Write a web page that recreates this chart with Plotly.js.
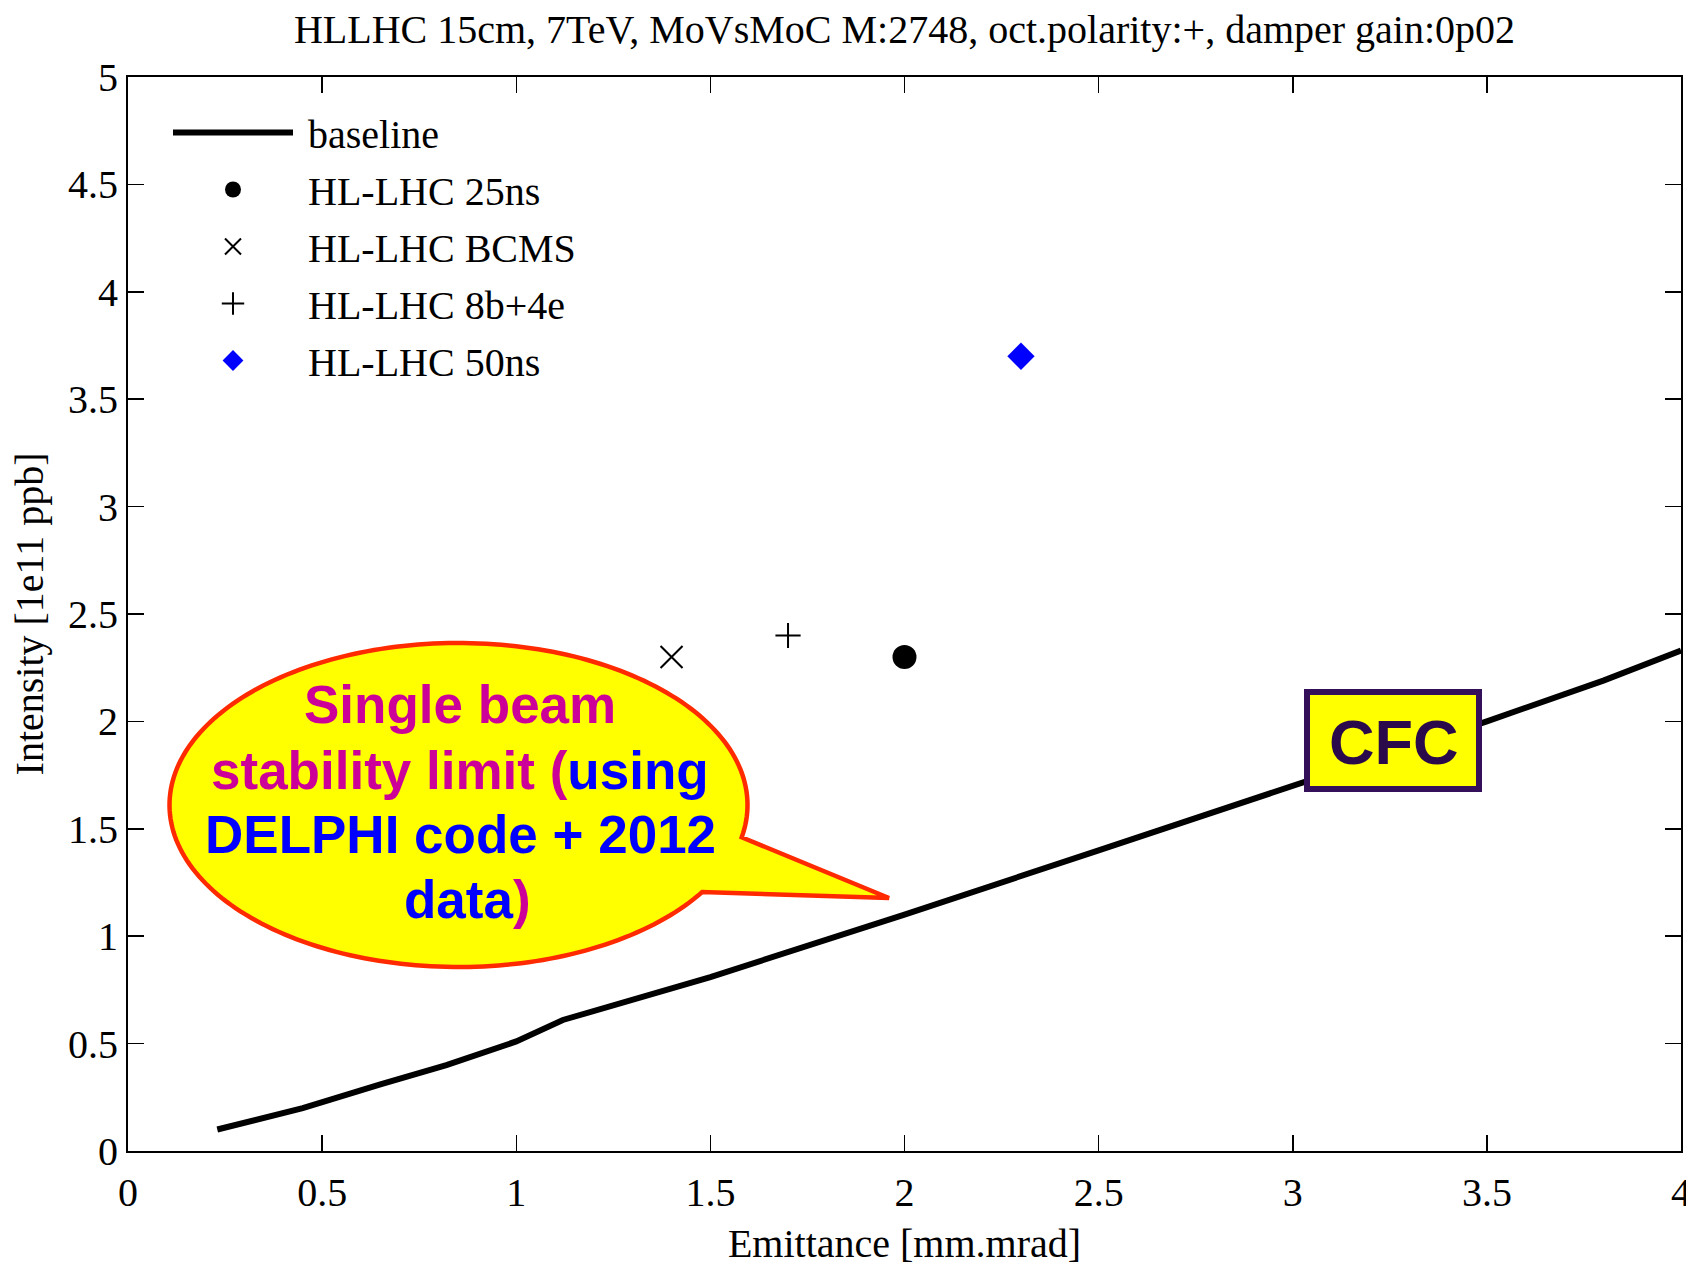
<!DOCTYPE html>
<html>
<head>
<meta charset="utf-8">
<script src="https://cdn.plot.ly/plotly-3.0.1.min.js"></script>
<style>
  html, body { margin: 0; padding: 0; background: #ffffff; }
  #chart { width: 1686px; height: 1266px; }
</style>
</head>
<body>
<div id="chart"></div>
<script>
// Single-beam stability limit (baseline) vs. emittance, and HL-LHC beam options
const baselineEmittance = [0.23, 0.45, 0.65, 0.82, 1.0, 1.12, 1.5, 2.0, 2.5, 3.0, 3.5, 3.8, 4.0];
const baselineIntensity = [0.10, 0.20, 0.31, 0.40, 0.51, 0.61, 0.81, 1.10, 1.40, 1.70, 2.00, 2.19, 2.33];

const beamNames = ['HL-LHC 25ns', 'HL-LHC BCMS', 'HL-LHC 8b+4e', 'HL-LHC 50ns'];
const beamEmittance = [2.0, 1.4, 1.7, 2.3];
const beamIntensity = [2.3, 2.3, 2.4, 3.7];

const xTickVals = [0, 0.5, 1, 1.5, 2, 2.5, 3, 3.5, 4];
const xTickText = ['0', '0.5', '1', '1.5', '2', '2.5', '3', '3.5', '4'];
const yTickVals = [0, 0.5, 1, 1.5, 2, 2.5, 3, 3.5, 4, 4.5, 5];
const yTickText = ['0', '0.5', '1', '1.5', '2', '2.5', '3', '3.5', '4', '4.5', '5'];

const W = 1686, H = 1266;
const M = { l: 128, r: 5, t: 77, b: 115 };
const plotW = W - M.l - M.r, plotH = H - M.t - M.b;
const serif = 'Liberation Serif, Times New Roman, serif';
const sans = 'Liberation Sans, Arial, sans-serif';

// page pixel -> paper coordinates for the decorations
const px = v => (v - M.l) / plotW;
const py = v => (H - M.b - v) / plotH;

// a little breathing room between legend symbols and their labels
const pad = '\u00a0';

const markerStyles = [
  { symbol: 'circle', size: 24, color: '#000000', line: { width: 0 } },
  { symbol: 'x-thin', size: 22, color: '#000000', line: { width: 2, color: '#000000' } },
  { symbol: 'cross-thin', size: 18, color: '#000000', line: { width: 2, color: '#000000' } },
  { symbol: 'diamond', size: 21, color: '#0000ff', line: { width: 0 } }
];

const traces = [{
  x: baselineEmittance, y: baselineIntensity, name: pad + 'baseline',
  type: 'scatter', mode: 'lines',
  line: { color: '#000000', width: 6 }, legendgroup: 'g0'
}];
beamNames.forEach((n, i) => {
  traces.push({
    x: [beamEmittance[i]], y: [beamIntensity[i]], name: pad + n,
    type: 'scatter', mode: 'markers',
    marker: markerStyles[i], legendgroup: 'g' + (i + 1)
  });
});

// speech bubble outline: ellipse plus a pointer towards the curve
function bubblePath() {
  const cx = 458.5, cy = 805, rx = 289, ry = 162;
  const a0 = 32.5, a1 = 371.5, tip = [889, 898];
  let d = '';
  for (let a = a0; a <= a1 + 1e-9; a += 1.5) {
    const t = a * Math.PI / 180;
    const X = px(cx + rx * Math.cos(t)), Y = py(cy + ry * Math.sin(t));
    d += (d ? ' L ' : 'M ') + X.toFixed(5) + ',' + Y.toFixed(5);
  }
  d += ' L ' + px(tip[0]).toFixed(5) + ',' + py(tip[1]).toFixed(5) + ' Z';
  return d;
}

const magenta = '#cc0099', blue = '#0000ff';
const bubbleLines = [
  { text: '<span style="color:' + magenta + '">Single beam</span>', x: 460, y: 705 },
  { text: '<span style="color:' + magenta + '">stability limit (</span><span style="color:' + blue + '">using</span>', x: 460, y: 770 },
  { text: '<span style="color:' + blue + '">DELPHI code + 2012</span>', x: 460, y: 834 },
  { text: '<span style="color:' + blue + '">data</span><span style="color:' + magenta + '">)</span>', x: 467, y: 899 }
];

const annotations = bubbleLines.map(l => ({
  xref: 'paper', yref: 'paper', x: px(l.x), y: py(l.y),
  xanchor: 'center', yanchor: 'middle', showarrow: false,
  text: '<b>' + l.text + '</b>',
  font: { family: sans, size: 53, color: blue }
}));
annotations.push({
  xref: 'paper', yref: 'paper', x: px(1393), y: py(742),
  xanchor: 'center', yanchor: 'middle', showarrow: false,
  text: '<b>CFC</b>', font: { family: sans, size: 63, color: '#2a0a4a' }
});

const axisCommon = {
  showgrid: false, zeroline: false,
  showline: true, linecolor: '#000000', linewidth: 2, mirror: 'allticks',
  ticks: 'inside', ticklen: 16, tickwidth: 1.5, tickcolor: '#000000',
  tickfont: { family: serif, size: 40, color: '#000000' },
  tickmode: 'array', ticklabeloverflow: 'allow'
};

const layout = {
  width: W, height: H,
  margin: M,
  paper_bgcolor: '#ffffff', plot_bgcolor: '#ffffff',
  title: {
    text: 'HLLHC 15cm, 7TeV, MoVsMoC M:2748, oct.polarity:+, damper gain:0p02',
    font: { family: serif, size: 40, color: '#000000' },
    x: (M.l + plotW / 2) / W, xanchor: 'center',
    y: 1 - 29 / H, yanchor: 'middle'
  },
  xaxis: Object.assign({}, axisCommon, {
    range: [0, 4], tickvals: xTickVals, ticktext: xTickText,
    ticklabelstandoff: 5,
    title: { text: 'Emittance [mm.mrad]', font: { family: serif, size: 40, color: '#000000' }, standoff: 16 }
  }),
  yaxis: Object.assign({}, axisCommon, {
    range: [0, 5], tickvals: yTickVals, ticktext: yTickText,
    title: { text: 'Intensity [1e11 ppb]', font: { family: serif, size: 40, color: '#000000' }, standoff: 12 }
  }),
  showlegend: true,
  legend: {
    x: px(168), y: py(100), xanchor: 'left', yanchor: 'top',
    bgcolor: 'rgba(255,255,255,0)', borderwidth: 0,
    font: { family: serif, size: 40, color: '#000000' },
    traceorder: 'grouped', tracegroupgap: 2, itemwidth: 120
  },
  shapes: [
    {
      type: 'path', xref: 'paper', yref: 'paper', layer: 'above',
      path: bubblePath(), fillcolor: '#ffff00',
      line: { color: '#ff2a00', width: 4.5 }
    },
    {
      type: 'rect', xref: 'paper', yref: 'paper', layer: 'above',
      x0: px(1307), x1: px(1479), y0: py(692), y1: py(789),
      fillcolor: '#ffff00', line: { color: '#34105a', width: 6 }
    }
  ],
  annotations: annotations
};

Plotly.newPlot('chart', traces, layout, { displayModeBar: false, staticPlot: true });
</script>
</body>
</html>
